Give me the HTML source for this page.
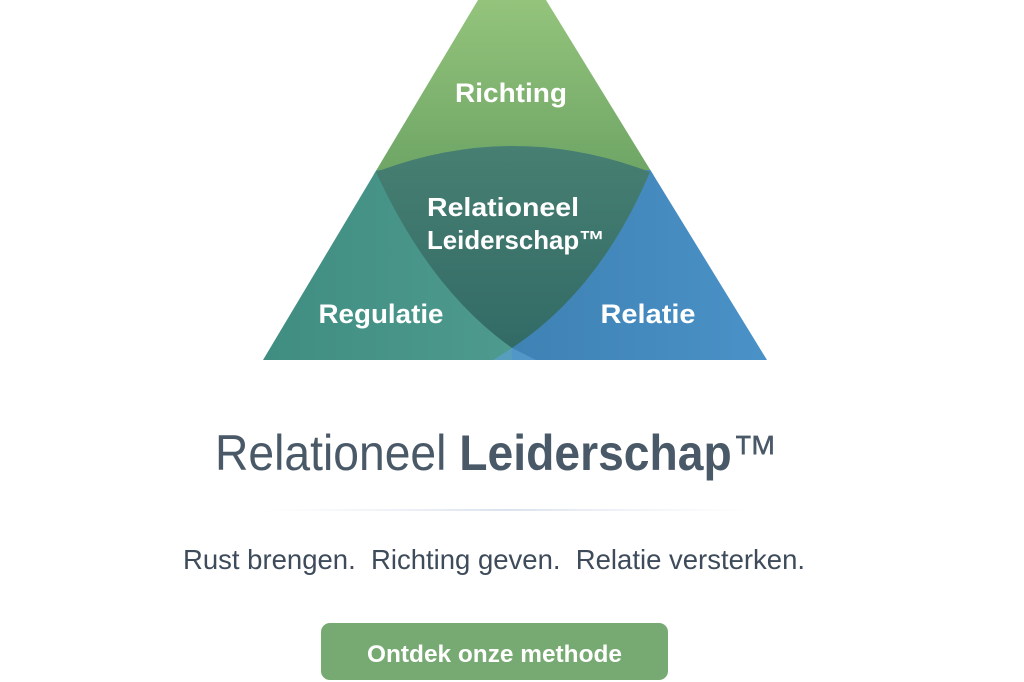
<!DOCTYPE html>
<html><head><meta charset="utf-8"><style>
html,body{margin:0;padding:0;background:#fff;}
svg{display:block;}
text{font-family:"Liberation Sans",sans-serif;}
</style></head><body>
<svg width="1024" height="682" viewBox="0 0 1024 682" xmlns="http://www.w3.org/2000/svg">
<defs>
<linearGradient id="gt" x1="0" y1="0" x2="0" y2="1"><stop offset="0" stop-color="#94c47c"/><stop offset="1" stop-color="#6ea565"/></linearGradient>
<linearGradient id="gl" x1="0" y1="0" x2="1" y2="0"><stop offset="0" stop-color="#3f8c80"/><stop offset="1" stop-color="#4e9a8e"/></linearGradient>
<linearGradient id="gr" x1="0" y1="0" x2="1" y2="0"><stop offset="0" stop-color="#3f82b4"/><stop offset="1" stop-color="#4a92c8"/></linearGradient>
<linearGradient id="gc" x1="0" y1="0" x2="0" y2="1"><stop offset="0" stop-color="#477f72"/><stop offset="1" stop-color="#326b66"/></linearGradient>
<linearGradient id="gd" x1="0" y1="0" x2="1" y2="0"><stop offset="0" stop-color="#e6eaf2" stop-opacity="0"/><stop offset="0.5" stop-color="#dce2ee"/><stop offset="1" stop-color="#e6eaf2" stop-opacity="0"/></linearGradient>
<clipPath id="tri"><polygon points="263,360 478,0 546,0 767,360"/></clipPath>
</defs>
<g clip-path="url(#tri)">
<rect x="250" y="0" width="530" height="175" fill="url(#gt)"/>
<rect x="250" y="170" width="265" height="195" fill="url(#gl)"/>
<rect x="512" y="170" width="265" height="195" fill="url(#gr)"/>
<path d="M376,172 Q513,120 650,172 Q600,290 512,348 Q430,290 376,172 Z" fill="url(#gc)"/>
<path d="M512,348 L490,362 L540,362 Z" fill="#5a9fd0" opacity="0.7"/>
</g>
<g fill="#fff" font-weight="bold" text-anchor="middle">
<text x="511" y="102" font-size="27" textLength="112" lengthAdjust="spacingAndGlyphs">Richting</text>
<text x="503" y="216" font-size="26" textLength="152" lengthAdjust="spacingAndGlyphs">Relationeel</text>
<text x="516" y="249" font-size="26" textLength="178" lengthAdjust="spacingAndGlyphs">Leiderschap™</text>
<text x="381" y="323" font-size="27" textLength="125" lengthAdjust="spacingAndGlyphs">Regulatie</text>
<text x="648" y="323" font-size="27" textLength="95" lengthAdjust="spacingAndGlyphs">Relatie</text>
</g>
<text x="215" y="470" font-size="50" fill="#4a5968" textLength="563" lengthAdjust="spacingAndGlyphs">Relationeel <tspan font-weight="600">Leiderschap</tspan>™</text>
<rect x="262" y="509" width="490" height="2" fill="url(#gd)"/>
<text x="183" y="569" font-size="28" fill="#3e4b5a" textLength="622" lengthAdjust="spacingAndGlyphs">Rust brengen.&#160; Richting geven.&#160; Relatie versterken.</text>
<rect x="321" y="623" width="347" height="57" rx="9" fill="#77aa72"/>
<text x="367" y="662" font-size="24" font-weight="bold" fill="#fff" textLength="255" lengthAdjust="spacingAndGlyphs">Ontdek onze methode</text>
</svg>
</body></html>
